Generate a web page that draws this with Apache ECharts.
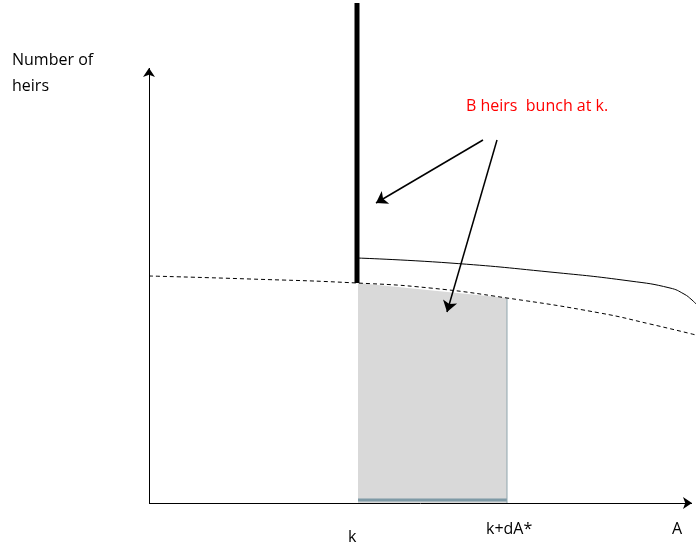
<!DOCTYPE html>
<html>
<head>
<meta charset="utf-8">
<script src="https://cdn.jsdelivr.net/npm/echarts@6/dist/echarts.min.js"></script>
<style>html,body{margin:0;padding:0;background:#fff}#main{width:696px;height:550px}</style>
</head>
<body>
<div id="main"></div>
<script>
// diagram coordinates: x from left, y measured up from bottom of the page
var axisOrigin = [149, 47];
var xAxisEnd = [692, 47];
var yAxisEnd = [149, 482];
var spike = [[357, 267], [357, 547]];
var dashedCurve = [[149, 274], [250, 271], [357, 267], [430, 262], [507, 252], [600, 237], [650, 226], [696, 215]];
var solidCurve = [[357, 292], [450, 287], [550, 278], [630, 269], [670, 262], [684, 256], [692, 250], [696, 246]];
var shadedTop = [[358, 267], [507, 252]];
var arrows = [[[483, 410], [376, 347]], [[497, 410], [447, 238]]];

var myChart = echarts.init(document.getElementById('main'));

var option = {
    animation: false,
    grid: { left: 0, right: 0, top: 0, bottom: 0 },
    xAxis: { type: 'value', min: 0, max: 696, show: false },
    yAxis: { type: 'value', min: 0, max: 550, show: false },
    series: [
        {
            // grey block under the dashed curve between k and k+dA*
            type: 'custom',
            renderItem: function (params, api) {
                if (params.dataIndex !== 0) return;
                var pts = shadedTop.map(function (p) { return api.coord(p); });
                var bl = api.coord([shadedTop[shadedTop.length - 1][0], axisOrigin[1]]);
                var br = api.coord([shadedTop[0][0], axisOrigin[1]]);
                return {
                    type: 'group',
                    children: [
                        { type: 'polygon', shape: { points: pts.concat([bl, br]) }, style: { fill: '#d9d9d9' } },
                        { type: 'line', shape: { x1: br[0], y1: br[1] - 3, x2: bl[0], y2: bl[1] - 3 }, style: { stroke: '#7f9aa6', lineWidth: 3 } },
                        { type: 'line', shape: { x1: bl[0], y1: bl[1], x2: pts[pts.length - 1][0], y2: pts[pts.length - 1][1] }, style: { stroke: '#8fa5ad', lineWidth: 1 } }
                    ]
                };
            },
            data: shadedTop
        },
        {
            type: 'line', data: dashedCurve, smooth: true, symbol: 'none',
            lineStyle: { color: '#000', width: 1, type: [4, 3] }
        },
        {
            type: 'line', data: solidCurve, smooth: true, symbol: 'none',
            lineStyle: { color: '#000', width: 1 }
        },
        {
            type: 'line', data: spike, symbol: 'none',
            lineStyle: { color: '#000', width: 5 }
        },
        {
            type: 'lines', coordinateSystem: 'cartesian2d',
            symbol: ['none', 'arrow'], symbolSize: 9,
            lineStyle: { color: '#000', width: 1, opacity: 1 },
            data: [
                { coords: [axisOrigin, xAxisEnd] },
                { coords: [axisOrigin, yAxisEnd] }
            ]
        },
        {
            type: 'lines', coordinateSystem: 'cartesian2d',
            symbol: ['none', 'arrow'], symbolSize: 11,
            lineStyle: { color: '#000', width: 1.5, opacity: 1 },
            data: arrows.map(function (a) { return { coords: a }; })
        }
    ],
    graphic: [
        { type: 'text', left: 12, top: 52, style: { text: 'Number of', fontSize: 16, fontFamily: 'Open Sans', fill: '#000' } },
        { type: 'text', left: 12, top: 78, style: { text: 'heirs', fontSize: 16, fontFamily: 'Open Sans', fill: '#000' } },
        { type: 'text', left: 466, top: 98, style: { text: 'B heirs  bunch at k.', fontSize: 16, fontFamily: 'Open Sans', fill: '#ff0000' } },
        { type: 'text', left: 348, top: 529, style: { text: 'k', fontSize: 16, fontFamily: 'Open Sans', fill: '#000' } },
        { type: 'text', left: 486, top: 521, style: { text: 'k+dA*', fontSize: 16, fontFamily: 'Open Sans', fill: '#000' } },
        { type: 'text', left: 672, top: 521, style: { text: 'A', fontSize: 16, fontFamily: 'Open Sans', fill: '#000' } }
    ]
};
myChart.setOption(option);
</script>
</body>
</html>
